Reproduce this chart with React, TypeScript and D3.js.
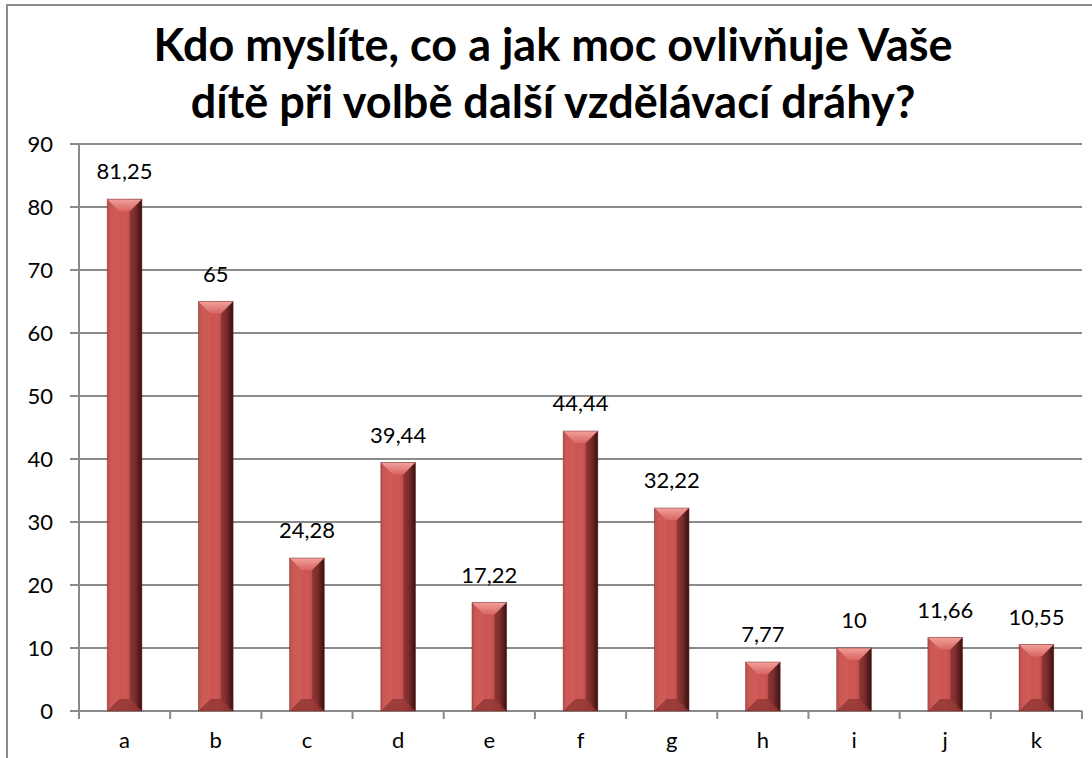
import React, { useRef, useEffect } from "react";
import * as d3 from "d3";

const categories = ["a", "b", "c", "d", "e", "f", "g", "h", "i", "j", "k"];
const values = [81.25, 65, 24.28, 39.44, 17.22, 44.44, 32.22, 7.77, 10, 11.66, 10.55];
const yTicks = [0, 10, 20, 30, 40, 50, 60, 70, 80, 90];
const titleLines = ["Kdo myslíte, co a jak moc ovlivňuje Vaše", "dítě při volbě další vzdělávací dráhy?"];

export default function App() {
  const ref = useRef<SVGSVGElement>(null);
  const width = 1092;
  const height = 758;

  useEffect(() => {
    const svg = d3.select(ref.current);
    svg.selectAll("*").remove();

    const left = 79, right = 1082, top = 144, bottom = 711;
    const font = "Lato, 'Open Sans', sans-serif";

    // outer frame
    svg.append("rect")
      .attr("x", 7).attr("y", 5).attr("width", 1200).attr("height", 900)
      .attr("fill", "#fff").attr("stroke", "#8c8c8c").attr("stroke-width", 2);

    // gradients
    const defs = svg.append("defs");
    const grad = defs.append("linearGradient").attr("id", "barGrad")
      .attr("x1", "0").attr("x2", "1").attr("y1", "0").attr("y2", "0");
    grad.append("stop").attr("offset", "0").attr("stop-color", "#b24845");
    grad.append("stop").attr("offset", "0.12").attr("stop-color", "#c9534f");
    grad.append("stop").attr("offset", "0.55").attr("stop-color", "#cd5754");
    grad.append("stop").attr("offset", "0.8").attr("stop-color", "#a03c3a");
    grad.append("stop").attr("offset", "1").attr("stop-color", "#3a1110");

    const topGrad = defs.append("linearGradient").attr("id", "topGrad")
      .attr("x1", "0").attr("x2", "0").attr("y1", "0").attr("y2", "1");
    topGrad.append("stop").attr("offset", "0").attr("stop-color", "#f2a09c");
    topGrad.append("stop").attr("offset", "1").attr("stop-color", "#d86662");

    const x = d3.scaleBand<string>().domain(categories).range([left, right]).paddingInner(0.62).paddingOuter(0.31);
    const y = d3.scaleLinear().domain([0, 90]).range([bottom, top]);

    const g = svg.append("g");

    // gridlines
    g.selectAll(".grid").data(yTicks.filter(t => t > 0)).enter().append("line")
      .attr("x1", left).attr("x2", right)
      .attr("y1", d => y(d)).attr("y2", d => y(d))
      .attr("stroke", "#8a8a8a").attr("stroke-width", 2);

    // y axis
    g.append("line").attr("x1", left).attr("x2", left).attr("y1", top).attr("y2", bottom + 8)
      .attr("stroke", "#8a8a8a").attr("stroke-width", 2);
    g.selectAll(".ytick").data(yTicks).enter().append("line")
      .attr("x1", left - 9).attr("x2", left)
      .attr("y1", d => y(d)).attr("y2", d => y(d))
      .attr("stroke", "#8a8a8a").attr("stroke-width", 2);
    g.selectAll(".ylab").data(yTicks).enter().append("text")
      .attr("x", left - 26).attr("y", d => y(d)).attr("dy", "0.36em")
      .attr("text-anchor", "end").attr("font-family", font).attr("font-size", 22)
      .text(d => d);

    // x axis
    g.append("line").attr("x1", left - 9).attr("x2", right).attr("y1", bottom).attr("y2", bottom)
      .attr("stroke", "#8a8a8a").attr("stroke-width", 2);
    const step = x.step();
    g.selectAll(".xtick").data(categories).enter().append("line")
      .attr("x1", (_, i) => left + step * (i + 1)).attr("x2", (_, i) => left + step * (i + 1))
      .attr("y1", bottom).attr("y2", bottom + 8)
      .attr("stroke", "#8a8a8a").attr("stroke-width", 2);
    g.selectAll(".xlab").data(categories).enter().append("text")
      .attr("x", d => x(d)! + x.bandwidth() / 2).attr("y", 748)
      .attr("text-anchor", "middle").attr("font-family", font).attr("font-size", 22)
      .text(d => d);

    // bars
    const bw = x.bandwidth();
    const inset = 12;
    const bars = g.selectAll(".bar").data(values).enter().append("g");
    bars.each(function (d, i) {
      const bg = d3.select(this);
      const x0 = x(categories[i])!;
      const x1 = x0 + bw;
      const y0 = y(d);
      const y1 = y(0);
      const h = y1 - y0;
      const ins = Math.min(inset, h / 2);
      bg.append("rect").attr("x", x0).attr("y", y0).attr("width", bw).attr("height", h)
        .attr("fill", "url(#barGrad)");
      // top bevel
      bg.append("polygon")
        .attr("points", `${x0},${y0} ${x1},${y0} ${x1 - ins},${y0 + ins} ${x0 + ins},${y0 + ins}`)
        .attr("fill", "url(#topGrad)");
      // bottom bevel
      bg.append("polygon")
        .attr("points", `${x0},${y1} ${x1},${y1} ${x1 - ins},${y1 - ins} ${x0 + ins},${y1 - ins}`)
        .attr("fill", "#8e3533").attr("opacity", 0.75);
      // right bevel darker
      bg.append("polygon")
        .attr("points", `${x1},${y0} ${x1},${y1} ${x1 - ins},${y1 - ins} ${x1 - ins},${y0 + ins}`)
        .attr("fill", "#3a1110").attr("opacity", 0.35);
      // left bevel lighter
      bg.append("polygon")
        .attr("points", `${x0},${y0} ${x0},${y1} ${x0 + ins},${y1 - ins} ${x0 + ins},${y0 + ins}`)
        .attr("fill", "#e07470").attr("opacity", 0.2);
      bg.append("rect").attr("x", x0).attr("y", y0).attr("width", bw).attr("height", h)
        .attr("fill", "none").attr("stroke", "#7a2a28").attr("stroke-width", 0.8).attr("opacity", 0.6);
    });

    // data labels
    g.selectAll(".dlab").data(values).enter().append("text")
      .attr("x", (_, i) => x(categories[i])! + bw / 2).attr("y", d => y(d) - 20)
      .attr("text-anchor", "middle").attr("font-family", font).attr("font-size", 22)
      .text(d => String(d).replace(".", ","));

    // title
    svg.selectAll(".title").data(titleLines).enter().append("text")
      .attr("x", 553).attr("y", (_, i) => 61 + i * 57)
      .attr("text-anchor", "middle").attr("font-family", font).attr("font-weight", "bold")
      .attr("font-size", 45)
      .text(d => d);
  }, []);

  return (
    <svg ref={ref} width={width} height={height}
      style={{ position: "absolute", left: 0, top: 0, background: "#fff" }} />
  );
}
